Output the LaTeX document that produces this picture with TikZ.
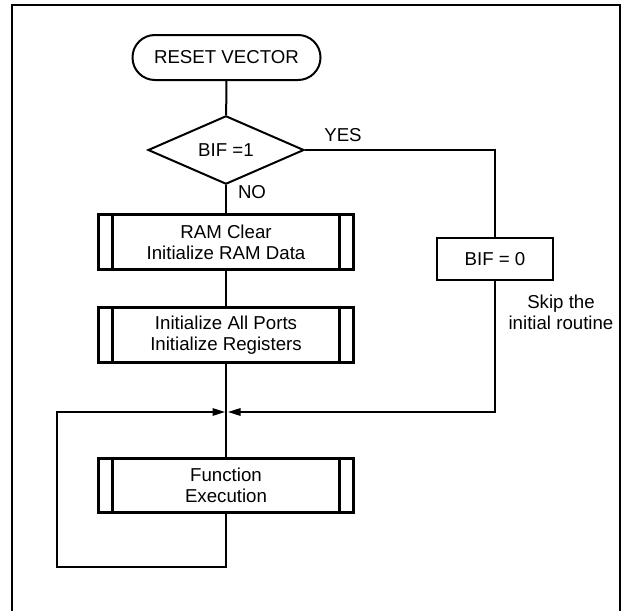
\documentclass[tikz,border=0pt]{standalone}
\usepackage{fontspec}
\setmainfont{Liberation Sans}
\usetikzlibrary{shapes.geometric,arrows.meta,positioning}

\begin{document}
\begin{tikzpicture}[
    x=0.75pt, y=-0.75pt,
    every node/.style={font=\fontsize{14pt}{16pt}\selectfont, align=center},
    term/.style={draw, line width=1.5pt, rounded corners=16.8pt, minimum width=141pt, minimum height=33.75pt},
    decide/.style={draw, diamond, line width=1.5pt, inner sep=0pt, minimum width=117pt, minimum height=39pt},
    proc/.style={draw, line width=2.2pt, minimum width=87pt, minimum height=31.5pt},
    subproc/.style={draw, line width=2.2pt, minimum width=191pt, minimum height=41pt},
    flow/.style={line width=1.5pt},
    tip/.style={-{Triangle[length=9.5pt,width=5.5pt]}, shorten >=1pt}
]
    \useasboundingbox (0,0) rectangle (622,611);

    % Frame
    \draw[line width=1.5pt] (12,612) -- (12,5) -- (620,5) -- (620,612);

    % Main column
    \node[term] (reset) at (226.5,57.5) {RESET VECTOR};
    \node[decide] (bif1) at (226,150) {BIF =1};
    \node[subproc] (ramclr) at (226,242) {RAM Clear\\Initialize RAM Data};
    \node[subproc] (initport) at (226,335) {Initialize All Ports\\Initialize Registers};
    \node[subproc] (func) at (226,485.5) {Function\\Execution};

    % Side branch
    \node[proc] (bif0) at (495,259) {BIF = 0};
    \node (skip) at (561,312) {Skip the\\initial routine};

    % Labels
    \node (lblyes) at (343,135) {YES};
    \node (lblno) at (252,192) {NO};

    % Inner bars of the subroutine boxes
    \foreach \n in {ramclr, initport, func} {
        \draw[line width=2.2pt] ([xshift=11.25pt]\n.north west) -- ([xshift=11.25pt]\n.south west);
        \draw[line width=2.2pt] ([xshift=-11.25pt]\n.north east) -- ([xshift=-11.25pt]\n.south east);
    }

    \coordinate (merge) at (226.5,412);
    \coordinate (loopbl) at (57,567);

    % Connectors
    \draw[flow] (reset) -- (bif1);
    \draw[flow] (bif1) -- (ramclr);
    \draw[flow] (ramclr) -- (initport);
    \draw[flow] (initport) -- (func);
    \draw[flow] (bif1.east) -| (bif0.north);
    \draw[flow, tip] (bif0.south) |- (merge);
    \draw[flow, tip] (func.south) |- (loopbl) |- (merge);
\end{tikzpicture}
\end{document}
